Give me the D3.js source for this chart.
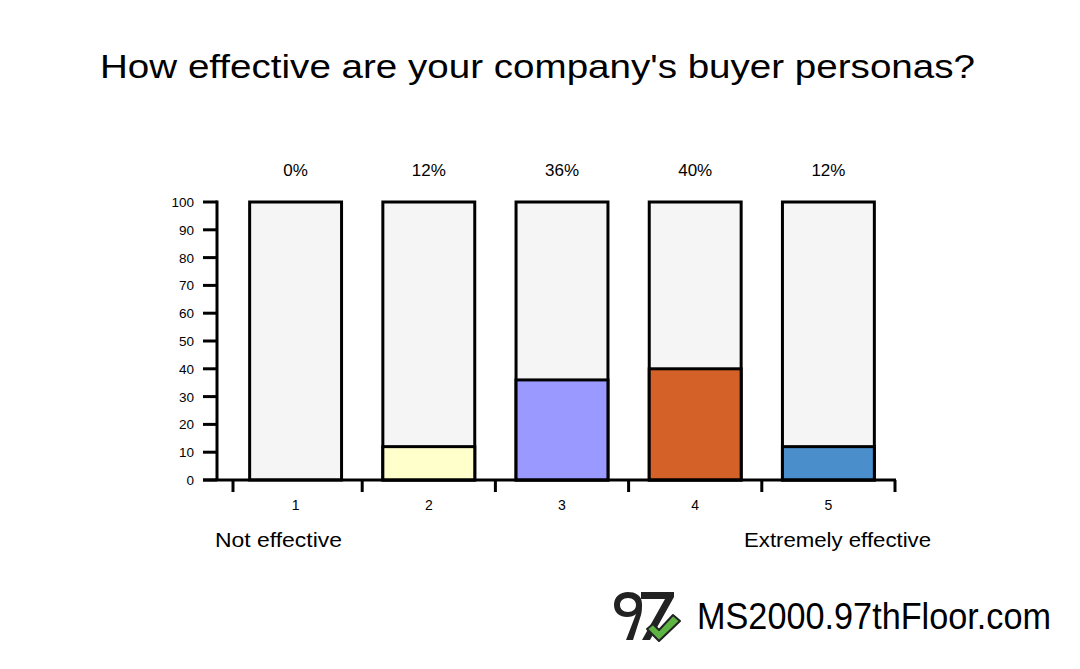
<!DOCTYPE html>
<html><head><meta charset="utf-8">
<script src="https://cdn.jsdelivr.net/npm/d3@7"></script>
<style>body{margin:0;background:#fff}svg{display:block}text{font-family:"Liberation Sans",Arial,sans-serif;fill:#000}</style>
</head><body><svg id="c" width="1080" height="669"></svg>
<script>
const categories = ["1","2","3","4","5"];
const values = [0, 12, 36, 40, 12];
const pctLabels = ["0%","12%","36%","40%","12%"];
const colors = ["#f5f5f5","#ffffcc","#9999ff","#d46228","#4a8fcc"];
const yTicks = [0,10,20,30,40,50,60,70,80,90,100];
const endLabels = ["Not effective","Extremely effective"];
const title = "How effective are your company's buyer personas?";
const site = "MS2000.97thFloor.com";

const svg = d3.select("#c");
const x = d3.scaleBand().domain(categories).range([229, 895]).paddingInner(0.31).paddingOuter(0.155);
const y = d3.scaleLinear().domain([0,100]).range([480, 202]);

svg.append("text").attr("x",100).attr("y",78).attr("font-size",33)
  .attr("textLength",875).attr("lengthAdjust","spacingAndGlyphs").text(title);

// y axis
const ya = svg.append("g");
ya.append("line").attr("x1",217).attr("x2",217).attr("y1",y(100)-1.5).attr("y2",y(0)).attr("stroke","#000").attr("stroke-width",3);
yTicks.forEach(t=>{
  ya.append("line").attr("x1",203).attr("x2",217).attr("y1",y(t)).attr("y2",y(t)).attr("stroke","#000").attr("stroke-width",3);
  ya.append("text").attr("x",194).attr("y",y(t)+5).attr("text-anchor","end").attr("font-size",13.5).text(t);
});

// bars
const bw = x.bandwidth();
categories.forEach((c,i)=>{
  const g = svg.append("g");
  g.append("rect").attr("x",x(c)).attr("y",y(100)).attr("width",bw).attr("height",y(0)-y(100))
    .attr("fill","#f5f5f5").attr("stroke","#000").attr("stroke-width",3);
  if(values[i]>0){
    g.append("rect").attr("x",x(c)).attr("y",y(values[i])).attr("width",bw).attr("height",y(0)-y(values[i]))
      .attr("fill",colors[i]).attr("stroke","#000").attr("stroke-width",3);
  }
  svg.append("text").attr("x",x(c)+bw/2).attr("y",176).attr("text-anchor","middle").attr("font-size",17).text(pctLabels[i]);
  svg.append("text").attr("x",x(c)+bw/2).attr("y",510).attr("text-anchor","middle").attr("font-size",14).text(c);
});

// x axis
svg.append("line").attr("x1",203).attr("x2",896).attr("y1",480).attr("y2",480).attr("stroke","#000").attr("stroke-width",3);
const step = x.step();
const edges = categories.map(c=>x(c)-x.paddingInner()*step/2).concat([x(categories[4])+bw+x.paddingInner()*step/2]);
edges.forEach((e,i)=>{
  const xx = i===0 ? e+4 : e;
  svg.append("line").attr("x1",xx).attr("x2",xx).attr("y1",480).attr("y2",492).attr("stroke","#000").attr("stroke-width",3);
});

svg.append("text").attr("x",215).attr("y",547).attr("font-size",21)
  .attr("textLength",127).attr("lengthAdjust","spacingAndGlyphs").text(endLabels[0]);
svg.append("text").attr("x",744).attr("y",547).attr("font-size",21)
  .attr("textLength",187).attr("lengthAdjust","spacingAndGlyphs").text(endLabels[1]);

// logo
const lg = svg.append("g");
lg.append("path").attr("d","M642,604 C642,595 635,592 628,592 C620,592 614,597 614,605 C614,613 620,617 627,617 C631,617 634,616 636,614 L626,640 L633,640 L641,615 C642,611 642,608 642,604 Z M628,598 C633,598 636,601 636,605 C636,609 633,612 628,612 C623,612 620,609 620,605 C620,601 623,598 628,598 Z")
  .attr("fill","#222").attr("fill-rule","evenodd");
lg.append("path").attr("d","M641,592 L674,592 L674,597 L650,640 L642,640 L665,599 L641,599 Z").attr("fill","#222");
lg.append("path").attr("d","M647,629 L653,624 L659,630 L673,615 L680,621 L659,641 Z").attr("fill","#5db443").attr("stroke","#222").attr("stroke-width",2).attr("stroke-linejoin","round");
svg.append("text").attr("x",697).attr("y",629).attr("font-size",36).attr("textLength",354).attr("lengthAdjust","spacingAndGlyphs").text(site);
</script></body></html>
